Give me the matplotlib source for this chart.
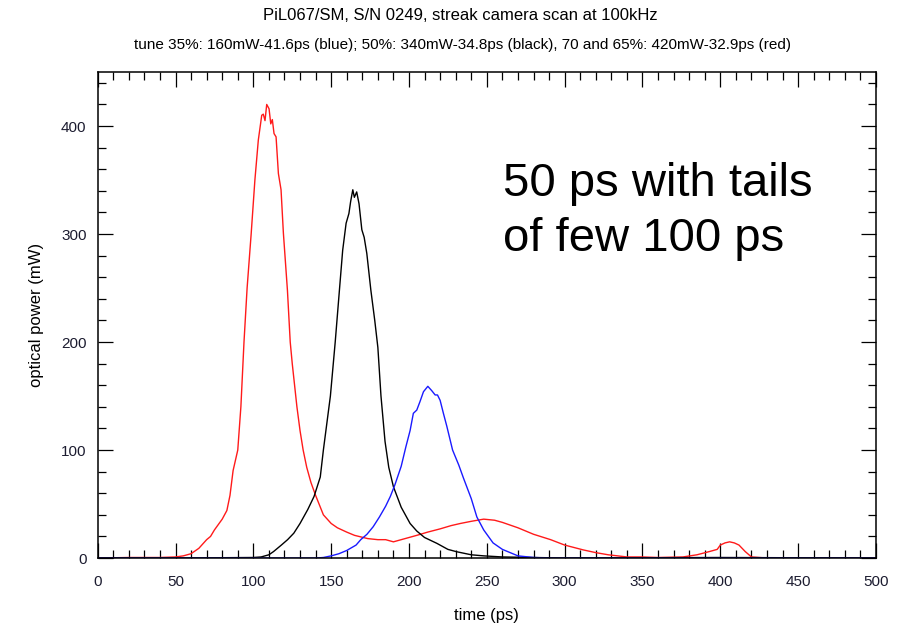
import numpy as np
import matplotlib.pyplot as plt
from matplotlib.ticker import MultipleLocator

plt.rcParams['font.family'] = ['Liberation Sans', 'DejaVu Sans']

# red trace: tune 70 and 65%
red_t = [0, 20, 40, 50, 55, 60, 65, 70, 72.5, 75, 80, 83, 85, 87, 90, 92, 94, 96, 98.6, 101,
         103.2, 105.4, 106.4, 107.5, 108.6, 110.1, 111.2, 112.2, 113.3, 114.6, 116.1, 117.8,
         119.3, 121.9, 123.7, 125, 128, 130, 132, 134.3, 137, 140, 145, 150, 154, 160, 165,
         173.5, 180, 185, 190, 195, 200, 205, 212, 220, 227, 233, 240, 248, 255, 260, 270, 280,
         291, 300, 312, 320, 328, 340, 350, 360, 376, 385, 393, 398, 400, 403, 406, 409, 412,
         416, 420, 430, 460, 500]
red_p = [0, 0.5, 0.5, 1, 2, 4, 9, 17, 20, 26, 36, 44, 58, 81, 100, 140, 200, 250, 300, 350,
         387, 410, 411, 405, 420, 416, 402, 406, 393, 390, 356, 341,
         301, 248, 200, 180, 140, 118, 100, 84, 70, 58, 40, 32, 28, 24, 21,
         18, 17, 17, 15, 17, 19, 21, 24, 27, 30, 32, 34, 36, 35, 33, 28, 22,
         17, 12, 7.5, 5, 3, 1, 1, 0.5, 1, 3, 6, 8, 12, 14, 15, 14, 12,
         6, 1, 0, 0, 0]

# black trace: tune 50%
black_t = [0, 50, 100, 105, 110, 113, 118, 122, 126, 130, 135, 139, 143, 145, 149.5, 152.6,
           155.3, 157.4, 159.6, 161.4, 162.5, 163.9, 164.9, 166.4, 167.9, 169.7, 171.2, 172.9,
           175.5, 178, 180, 182, 184.6, 187, 190, 195, 200.7, 205, 210, 217.9, 225, 230.7, 240,
           248, 260, 280, 300, 400, 500]
black_p = [0, 0, 0.5, 1, 3, 6, 12, 17, 23, 32, 45, 57, 75, 100, 150, 200,
           248, 285, 310, 319, 330, 341, 334, 339, 328, 304, 297, 282,
           248, 220, 195, 150, 108, 84, 66, 47, 32, 25, 19, 13.6, 8, 5.8, 3,
           2, 1, 0.5, 0, 0.5, 0]

# blue trace: tune 35%
blue_t = [0, 100, 140, 145, 150, 155, 160, 166, 169, 173, 177, 181, 185, 188, 191, 195, 198,
          200.7, 202.8, 205, 207.1, 209.3, 212.1, 214.6, 216.8, 218.3, 220, 222.1, 224.3, 228,
          232, 235, 240, 243.6, 248, 254, 260, 265, 270, 280, 290, 500]
blue_p = [0, 0, 0, 0.5, 2, 4, 7, 12, 17, 22, 29, 38, 48, 57, 68, 85, 103,
          118, 134, 137, 145, 154, 159, 155, 151, 151, 146, 134, 122, 100,
          86, 74, 55, 38, 26, 14, 8, 5, 2, 0.5, 0, 0]

fig = plt.figure(figsize=(9.12, 6.27), dpi=100)
ax = fig.add_axes([0.1071, 0.1100, 0.8534, 0.7751])

ax.plot(red_t, red_p, color='#ff1a1a', lw=1.0)
ax.plot(black_t, black_p, color='black', lw=1.0)
ax.plot(blue_t, blue_p, color='#1a1aff', lw=1.0)

ax.set_xlim(0, 500)
ax.set_ylim(0, 450)
ax.xaxis.set_major_locator(MultipleLocator(50))
ax.xaxis.set_minor_locator(MultipleLocator(10))
ax.yaxis.set_major_locator(MultipleLocator(100))
ax.yaxis.set_minor_locator(MultipleLocator(20))
ax.tick_params(which='both', direction='in', top=True, right=True, width=0.9,
               labelsize=11, labelcolor='#1c1c30')
ax.tick_params(which='major', length=11)
ax.tick_params(which='minor', length=5.5)
ax.tick_params(axis='x', pad=12)
ax.tick_params(axis='y', pad=8)
for s in ax.spines.values():
    s.set_linewidth(1.1)

ax.set_xlabel('time (ps)', fontsize=12, labelpad=14)
ax.set_ylabel('optical power (mW)', fontsize=12, labelpad=12)

fig.text(0.505, 0.975, 'PiL067/SM, S/N 0249, streak camera scan at 100kHz',
         ha='center', va='center', fontsize=12)
fig.text(0.507, 0.928, 'tune 35%: 160mW-41.6ps (blue); 50%: 340mW-34.8ps (black), '
         '70 and 65%: 420mW-32.9ps (red)', ha='center', va='center', fontsize=11)

ax.text(260.5, 284, '50 ps with tails\nof few 100 ps', fontsize=34,
        ha='left', va='baseline', linespacing=1.33)

fig.savefig('out.png', dpi=100)
